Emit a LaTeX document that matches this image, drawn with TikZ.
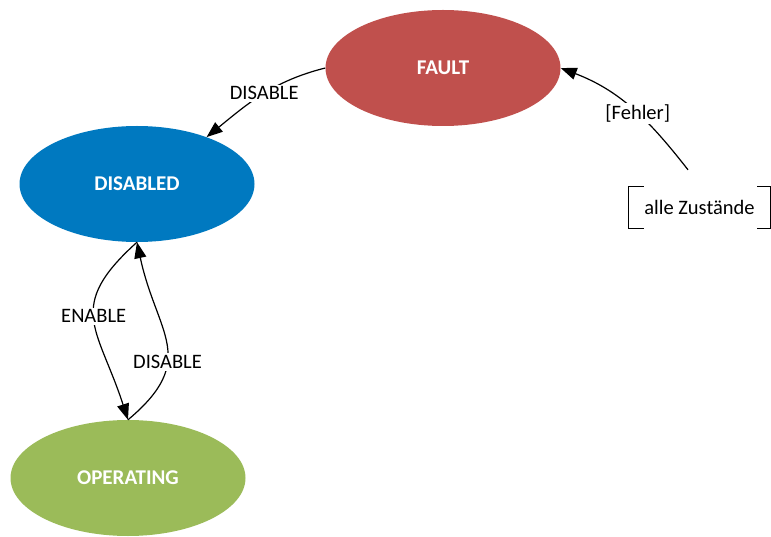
\documentclass[tikz,border=0pt]{standalone}
\usepackage{fontspec}
\setmainfont{Carlito}
\usetikzlibrary{arrows.meta,shapes.geometric}
\usetikzlibrary{calc}

\tikzset{
  zustand/.style={ellipse,minimum width=235pt,minimum height=116pt,inner sep=0pt,
    text=white,font=\fontsize{21}{24}\selectfont\bfseries},
  trans/.style={line width=1.2pt,-{Triangle[length=16pt,width=12pt]}},
  lbl/.style={fill=white,inner sep=2pt,font=\fontsize{20.5}{24}\selectfont}
}

\begin{document}
\begin{tikzpicture}[x=1pt,y=1pt]
            \useasboundingbox (0,0) rectangle (771,536);
            \node[zustand,fill={rgb,255:red,192;green,80;blue,77}] (fault) at (443,468) {FAULT};
            \node[zustand,fill={rgb,255:red,0;green,121;blue,192}] (disabled) at (137,352) {DISABLED};
            \node[zustand,fill={rgb,255:red,155;green,187;blue,89}] (operating) at (128,58) {OPERATING};
            \node[minimum width=141pt,minimum height=41pt,inner sep=0pt,
                  font=\fontsize{20.5}{24}\selectfont] (alle) at (699.5,328.5) {alle Zustände};
            \draw[line width=1.2pt] ([xshift=15pt]alle.north west) -| (alle.south west) -- ++(15,0);
            \draw[line width=1.2pt] ([xshift=-13pt]alle.north east) -| (alle.south east) -- ++(-13,0);
            \draw[trans] (fault.west) to[out=194,in=39]
                node[lbl,pos=0.48] {DISABLE} (disabled.34);
            \draw[trans] ([xshift=-11.5pt,yshift=17pt]alle.north) to[out=128,in=-21]
                node[lbl,pos=0.45] {[Fehler]} (fault.east);
            \draw[trans] (disabled.south) to[out=-138,in=108,looseness=1.4]
                node[lbl,pos=0.47] {ENABLE} (operating.north);
            \draw[trans] (operating.north) to[out=40,in=-78,looseness=1.35]
                node[lbl,pos=0.37] {DISABLE} (disabled.south);
        \end{tikzpicture}
\end{document}
